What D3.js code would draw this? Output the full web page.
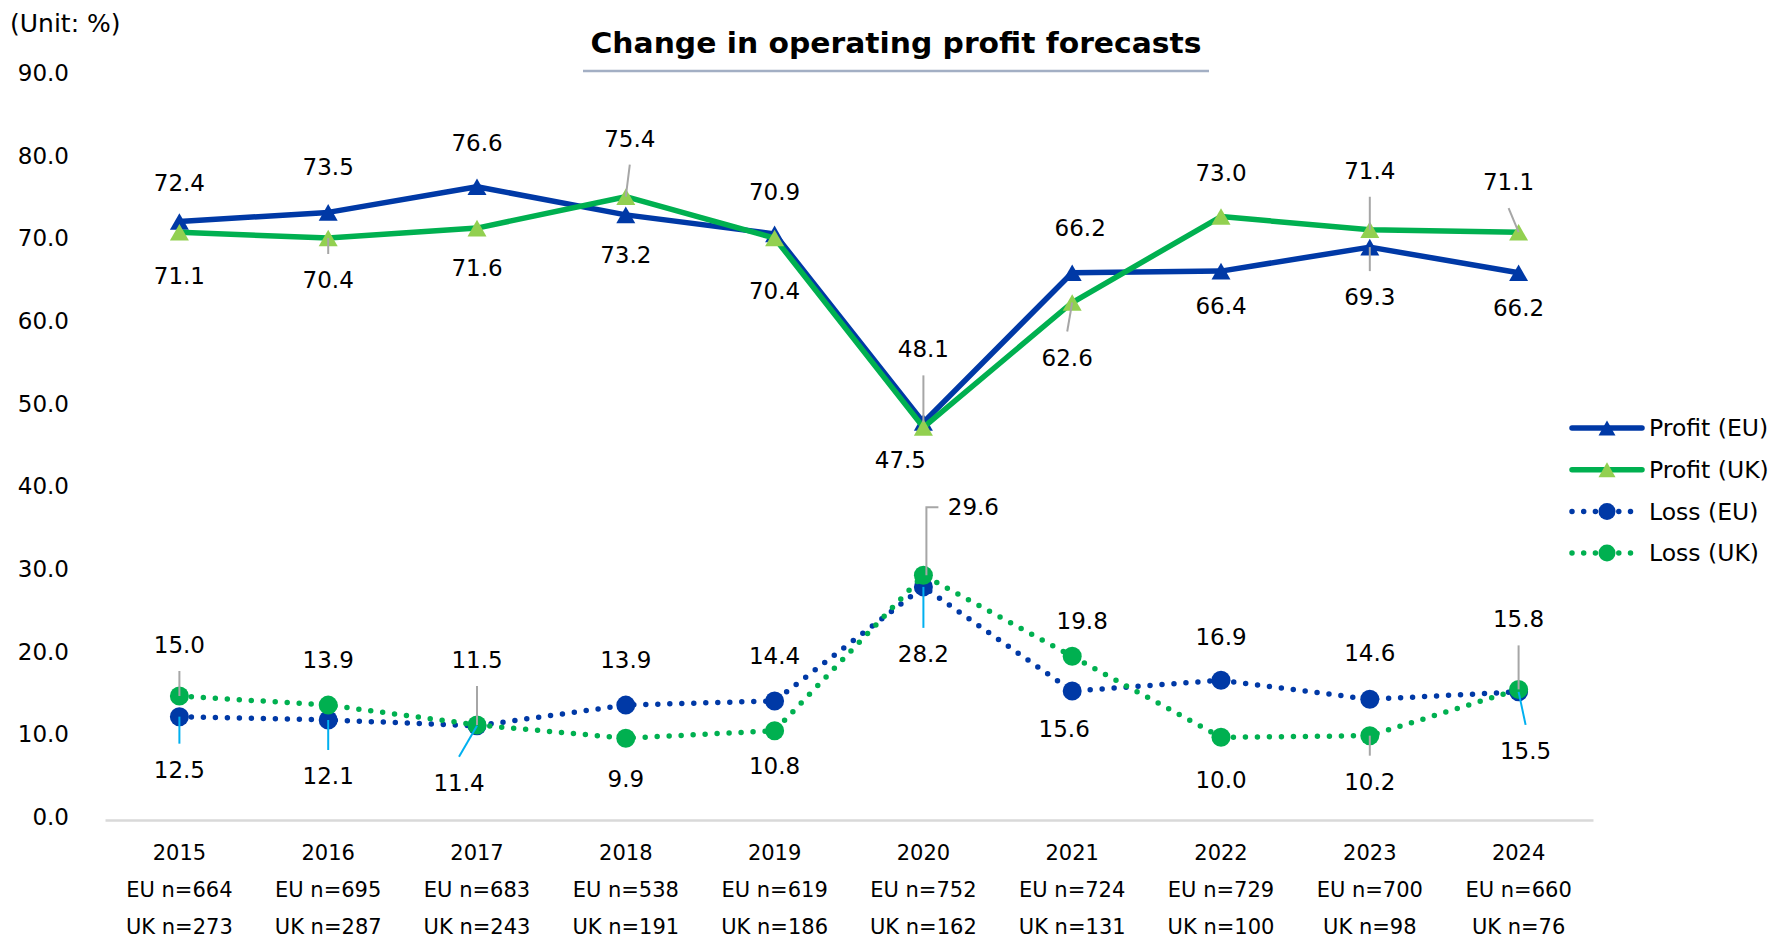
<!DOCTYPE html>
<html>
<head>
<meta charset="utf-8">
<script src="https://cdn.jsdelivr.net/npm/d3@7"></script>
<style>
    body { margin: 0; background: #fff; }
    svg text { font-family: "DejaVu Sans", Verdana, sans-serif; fill: #000; }
</style>
</head>
<body>
<svg id="chart" width="1771" height="939"></svg>
<script>
// data
var years = ["2015", "2016", "2017", "2018", "2019", "2020", "2021", "2022", "2023", "2024"];
var euN = [664, 695, 683, 538, 619, 752, 724, 729, 700, 660];
var ukN = [273, 287, 243, 191, 186, 162, 131, 100, 98, 76];
var profitEU = [72.4, 73.5, 76.6, 73.2, 70.9, 48.1, 66.2, 66.4, 69.3, 66.2];
var profitUK = [71.1, 70.4, 71.6, 75.4, 70.4, 47.5, 62.6, 73.0, 71.4, 71.1];
var lossEU = [12.5, 12.1, 11.4, 13.9, 14.4, 28.2, 15.6, 16.9, 14.6, 15.5];
var lossUK = [15.0, 13.9, 11.5, 9.9, 10.8, 29.6, 19.8, 10.0, 10.2, 15.8];
var yTicks = [0, 10, 20, 30, 40, 50, 60, 70, 80, 90];

// label placement: [dx, dy, leader]  leader: 0 none, 1 straight, 2 elbow
var labProfitEU = [[0,-39,0],[0,-45,0],[0,-44,0],[0,40,0],[0,-42,0],[0,-73,1],[8,-45,0],[0,35,0],[0,50,1],[0,35,0]];
var labProfitUK = [[0,44,0],[0,42,1],[0,40,0],[4,-58,1],[0,53,0],[-23,33,0],[-5,55,1],[0,-44,0],[0,-59,1],[-10,-50,1]];
var labLossEU = [[0,53,1],[0,56,1],[-18,57,1],[0,-45,0],[0,-45,0],[0,67,1],[-8,38,0],[0,-43,0],[0,-46,0],[7,59,1]];
var labLossUK = [[0,-51,1],[0,-45,0],[0,-65,1],[0,41,0],[0,35,0],[50,-68,2],[10,-35,0],[0,43,0],[0,46,1],[0,-70,1]];

var BLUE = "#0039a6", GREEN = "#00b050", LIGHTGREEN = "#92d050";
var GREY = "#a6a6a6", CYAN = "#00b0f0";

var series = [
    {name: "Profit (EU)", values: profitEU, color: BLUE, fill: BLUE, shape: "tri", dotted: false, labels: labProfitEU, leader: GREY},
    {name: "Profit (UK)", values: profitUK, color: GREEN, fill: LIGHTGREEN, shape: "tri", dotted: false, labels: labProfitUK, leader: GREY},
    {name: "Loss (EU)", values: lossEU, color: BLUE, fill: BLUE, shape: "dot", dotted: true, labels: labLossEU, leader: CYAN},
    {name: "Loss (UK)", values: lossUK, color: GREEN, fill: GREEN, shape: "dot", dotted: true, labels: labLossUK, leader: GREY}
];

var svg = d3.select("#chart");
var fmt = d3.format(".1f");

var x = d3.scaleBand().domain(years).range([105, 1593]);
var y = d3.scaleLinear().domain([0, 90]).range([820, 76]);
function cx(i) { return x(years[i]) + x.bandwidth() / 2; }

// title
svg.append("text")
    .attr("x", 896).attr("y", 43).attr("dy", "0.35em")
    .attr("text-anchor", "middle")
    .attr("textLength", 611).attr("lengthAdjust", "spacingAndGlyphs")
    .style("font-size", "28px").style("font-weight", "bold")
    .text("Change in operating profit forecasts");
svg.append("line")
    .attr("x1", 583).attr("x2", 1209).attr("y1", 71).attr("y2", 71)
    .attr("stroke", "#a3afc4").attr("stroke-width", 2.5);

svg.append("text")
    .attr("x", 10).attr("y", 23).attr("dy", "0.35em")
    .style("font-size", "25px")
    .text("(Unit: %)");

// y axis (labels only)
var yAxis = d3.axisLeft(y).tickValues(yTicks).tickFormat(fmt).tickSize(0).tickPadding(0);
var gy = svg.append("g").attr("transform", "translate(69,-3)").call(yAxis);
gy.select(".domain").remove();
gy.selectAll("text").style("font-size", "23px").attr("fill", "#000");

// x axis
var xAxis = d3.axisBottom(x).tickSize(0).tickSizeOuter(0).tickPadding(0);
var gx = svg.append("g").attr("transform", "translate(0,820)").call(xAxis);
gx.select(".domain").attr("stroke", "#d9d9d9").attr("stroke-width", 2.5);
gx.selectAll(".tick text").each(function (d, i) {
    var t = d3.select(this).text(null).attr("y", 0).attr("dy", null)
        .style("font-size", "21px").attr("fill", "#000");
    t.append("tspan").attr("x", 0).attr("y", 33).attr("dy", "0.35em").text(d);
    t.append("tspan").attr("x", 0).attr("y", 70).attr("dy", "0.35em").text("EU n=" + euN[i]);
    t.append("tspan").attr("x", 0).attr("y", 107).attr("dy", "0.35em").text("UK n=" + ukN[i]);
});

var line = d3.line().x(function (d, i) { return cx(i); }).y(function (d) { return y(d); });

// triangle centred on its bounding box, like the spreadsheet markers
function triPath(w, h) {
    return "M0," + (-h / 2) + "L" + (w / 2) + "," + (h / 2) + "L" + (-w / 2) + "," + (h / 2) + "Z";
}

function drawLine(g, s) {
    var p = g.append("path").attr("d", line(s.values)).attr("fill", "none")
        .attr("stroke", s.color).attr("stroke-linejoin", "round").attr("stroke-width", 5.5);
    if (s.dotted) {
        p.attr("stroke-dasharray", "0 12").attr("stroke-linecap", "round");
    }
}

function drawMarker(g, s, px, py, r) {
    if (s.shape === "tri") {
        g.append("path").attr("d", triPath(r * 2, r * 1.75))
            .attr("transform", "translate(" + px + "," + py + ")")
            .attr("fill", s.fill);
    } else {
        g.append("circle").attr("cx", px).attr("cy", py).attr("r", r).attr("fill", s.fill);
    }
}

var plot = svg.append("g");
series.forEach(function (s) {
    var g = plot.append("g");
    drawLine(g, s);
    s.values.forEach(function (v, i) { drawMarker(g, s, cx(i), y(v), 9.5); });
});

// data labels and leader lines
var labels = svg.append("g");
series.forEach(function (s) {
    s.values.forEach(function (v, i) {
        var px = cx(i), py = y(v);
        var lab = s.labels[i];
        var lx = px + lab[0], ly = py + lab[1];
        if (lab[2] === 1) {
            var sy = ly + (lab[1] < 0 ? 26 : -26);
            labels.append("line")
                .attr("x1", lx).attr("y1", sy).attr("x2", px).attr("y2", py)
                .attr("stroke", s.leader).attr("stroke-width", 2);
        } else if (lab[2] === 2) {
            labels.append("path")
                .attr("d", "M" + (lx - 35) + "," + ly + "H" + (px + 3) + "V" + py)
                .attr("fill", "none").attr("stroke", s.leader).attr("stroke-width", 2);
        }
        labels.append("text")
            .attr("x", lx).attr("y", ly).attr("dy", "0.35em")
            .attr("text-anchor", "middle").style("font-size", "23px")
            .text(fmt(v));
    });
});

// legend
var legend = svg.append("g");
series.forEach(function (s, i) {
    var ly = 428 + i * 41.7;
    var g = legend.append("g");
    var p = g.append("line").attr("x1", 1572).attr("x2", 1642).attr("y1", ly).attr("y2", ly)
        .attr("stroke", s.color).attr("stroke-linecap", "round").attr("stroke-width", 5.5);
    if (s.dotted) {
        p.attr("stroke-dasharray", "0 11.7");
    }
    drawMarker(g, s, 1607, ly, 8.5);
    g.append("text").attr("x", 1649).attr("y", ly).attr("dy", "0.35em")
        .style("font-size", "23.5px").text(s.name);
});
</script>
</body>
</html>
